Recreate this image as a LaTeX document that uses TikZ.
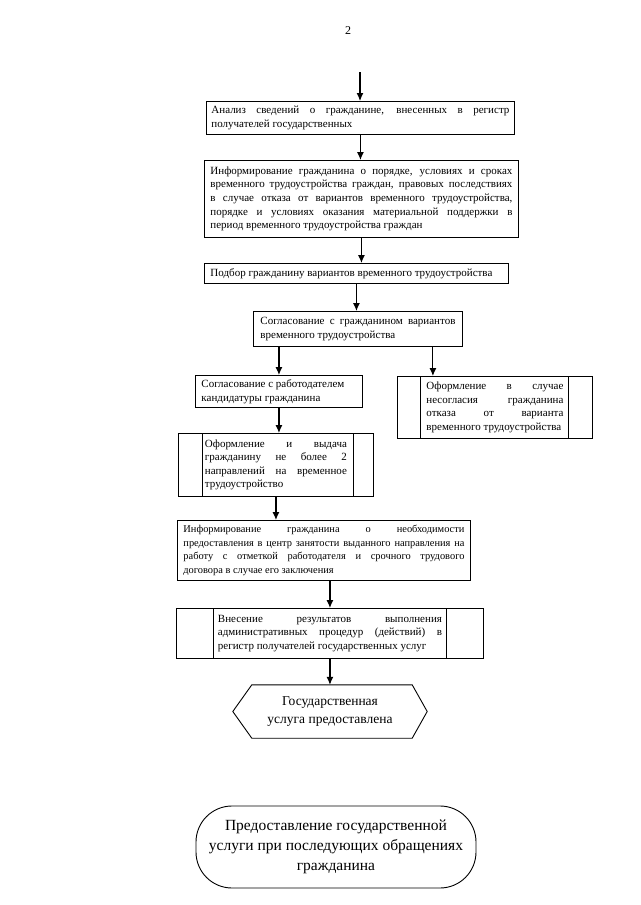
\documentclass[tikz,border=0pt]{standalone}
\usepackage{fontspec}
\setmainfont{Liberation Serif}
\usetikzlibrary{arrows.meta}

\tikzset{
    stepbox/.style={draw, line width=0.9pt, anchor=north west, align=justify,
        inner ysep=2pt, font=\fontsize{11}{13.6}\selectfont},
    flow/.style={-{Latex[length=8pt,width=7pt]}, line width=1.1pt},
}

\begin{document}
\begin{tikzpicture}[x=1pt, y=-1pt]
    \useasboundingbox (0,0) rectangle (640,905);

    \node (pagenum) at (348,31) {\fontsize{12}{14}\selectfont 2};
    \coordinate (start) at (360,72);

    % main column
    \node[stepbox, text width=298pt, inner xsep=5pt, minimum height=33pt] (analiz) at (206,101)
        {Анализ сведений о гражданине, внесенных в регистр\linebreak получателей государственных};
    \node[stepbox, text width=302pt, inner xsep=6pt, minimum height=77pt] (inform) at (204,160)
        {Информирование гражданина о порядке, условиях и сроках\linebreak
         временного трудоустройства граждан, правовых последствиях\linebreak
         в случае отказа от вариантов временного трудоустройства,\linebreak
         порядке и условиях оказания материальной поддержки в\linebreak
         период временного трудоустройства граждан};
    \node[stepbox, text width=292pt, inner xsep=6pt, minimum height=20pt] (podbor) at (204,263)
        {Подбор гражданину вариантов временного трудоустройства};
    \node[stepbox, text width=195pt, inner xsep=7pt, minimum height=35pt] (soglas) at (253,311)
        {Согласование с гражданином вариантов\linebreak временного трудоустройства};

    % branches
    \node[stepbox, text width=155pt, inner xsep=6pt, minimum height=32pt] (rabot) at (195,375)
        {Согласование с работодателем\\кандидатуры гражданина};
    \node[stepbox, text width=137pt, inner xsep=29pt, minimum height=62pt] (otkaz) at (397,376)
        {Оформление в случае\linebreak несогласия гражданина\linebreak отказа от варианта\linebreak временного трудоустройства};
    \draw[line width=0.9pt] ([xshift=23pt]otkaz.north west) -- ([xshift=23pt]otkaz.south west);
    \draw[line width=0.9pt] ([xshift=-24pt]otkaz.north east) -- ([xshift=-24pt]otkaz.south east);

    \node[stepbox, text width=142pt, inner xsep=26.5pt, minimum height=63pt] (vydacha) at (178,433)
        {Оформление и выдача\linebreak гражданину не более 2\linebreak направлений на временное\linebreak трудоустройство};
    \draw[line width=0.9pt] ([xshift=24pt]vydacha.north west) -- ([xshift=24pt]vydacha.south west);
    \draw[line width=0.9pt] ([xshift=-20pt]vydacha.north east) -- ([xshift=-20pt]vydacha.south east);

    \node[stepbox, text width=281pt, inner xsep=6pt, minimum height=60pt,
        font=\fontsize{10.4}{13.6}\selectfont] (napr) at (177,520)
        {Информирование гражданина о необходимости\linebreak
         предоставления в центр занятости выданного направления на\linebreak
         работу с отметкой работодателя и срочного трудового\linebreak
         договора в случае его заключения};

    \node[stepbox, text width=224pt, inner xsep=41.5pt, minimum height=50pt] (registr) at (176,608)
        {Внесение результатов выполнения\linebreak административных процедур (действий) в\linebreak регистр получателей государственных услуг};
    \draw[line width=0.9pt] ([xshift=37pt]registr.north west) -- ([xshift=37pt]registr.south west);
    \draw[line width=0.9pt] ([xshift=-37pt]registr.north east) -- ([xshift=-37pt]registr.south east);

    % end of procedure
    \node[minimum width=194pt, minimum height=53pt, inner sep=0pt, align=center,
        font=\fontsize{13.5}{17.5}\selectfont] (done) at (330,711.5)
        {Государственная\\услуга предоставлена};
    \draw[line width=0.9pt] ([xshift=19pt]done.north west) -- ([xshift=-15pt]done.north east)
        -- (done.east) -- ([xshift=-15pt]done.south east) -- ([xshift=19pt]done.south west)
        -- (done.west) -- cycle;

    \node[draw, line width=0.9pt, rounded corners=36pt, minimum width=280pt, minimum height=82pt,
        align=center, font=\fontsize{15.5}{20}\selectfont] (next) at (336,847)
        {Предоставление государственной\\услуги при последующих обращениях\\гражданина};

    % arrows
    \coordinate (forkR) at ([xshift=-30pt]soglas.south east);
    \draw[flow] (start) -- (start |- analiz.north);
    \draw[flow] (analiz.south) -- (analiz.south |- inform.north);
    \draw[flow] (inform.south) -- (inform.south |- podbor.north);
    \draw[flow] (podbor.south) -- (podbor.south |- soglas.north);
    \draw[flow] (rabot.north |- soglas.south) -- (rabot.north);
    \draw[flow] (forkR) -- (forkR |- otkaz.north);
    \draw[flow] (rabot.south) -- (rabot.south |- vydacha.north);
    \draw[flow] (vydacha.south) -- (vydacha.south |- napr.north);
    \draw[flow] (registr.north |- napr.south) -- (registr.north);
    \draw[flow] (registr.south) -- (registr.south |- done.north);
\end{tikzpicture}
\end{document}
